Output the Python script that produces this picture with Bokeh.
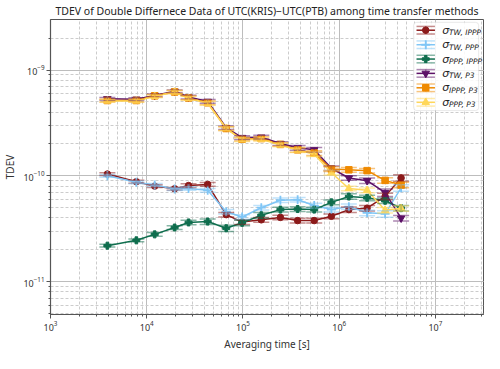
from bokeh.plotting import figure
from bokeh.models import Range1d, LinearScale, BoxAnnotation, Whisker, TeeHead, ColumnDataSource
from bokeh.embed import file_html
from bokeh.resources import INLINE
from bokeh.core.properties import value

# ---------------- data ----------------
tau = [3900, 7800, 12100, 19500, 27200, 43000, 67000, 98000, 155000, 245000,
       370000, 550000, 830000, 1260000, 1950000, 3000000, 4400000]

tdev_tw_ippp = [1.04e-10, 8.8e-11, 8.0e-11, 7.55e-11, 8.1e-11, 8.3e-11, 4.3e-11, 3.66e-11, 3.84e-11,
                4.05e-11, 3.78e-11, 3.78e-11, 4.15e-11, 4.8e-11, 4.95e-11, 6.4e-11, 9.55e-11]
tdev_tw_ppp = [1.0e-10, 8.7e-11, 8.2e-11, 7.5e-11, 7.6e-11, 7.3e-11, 4.58e-11, 4.09e-11, 5.0e-11,
               5.89e-11, 5.95e-11, 5.24e-11, 4.8e-11, 5.12e-11, 4.47e-11, 4.38e-11, 7.7e-11]
tdev_ppp_ippp = [2.19e-11, 2.46e-11, 2.8e-11, 3.25e-11, 3.63e-11, 3.7e-11, 3.2e-11, 3.6e-11, 4.24e-11,
                 4.8e-11, 4.86e-11, 4.8e-11, 5.62e-11, 6.38e-11, 6.2e-11, 5.82e-11, 4.95e-11]
tdev_tw_p3 = [5.35e-10, 5.3e-10, 5.75e-10, 6.3e-10, 5.55e-10, 5.05e-10, 2.85e-10, 2.3e-10, 2.32e-10,
              2.02e-10, 1.84e-10, 1.76e-10, 1.18e-10, 9.55e-11, 9.0e-11, 6.95e-11, 3.98e-11]
tdev_ippp_p3 = [5.15e-10, 5.15e-10, 5.7e-10, 6.2e-10, 5.45e-10, 4.9e-10, 2.8e-10, 2.22e-10, 2.25e-10,
                1.98e-10, 1.76e-10, 1.64e-10, 1.16e-10, 1.14e-10, 1.12e-10, 9.06e-11, 8.2e-11]
tdev_ppp_p3 = [5.1e-10, 5.1e-10, 5.65e-10, 6.2e-10, 5.4e-10, 4.85e-10, 2.8e-10, 2.2e-10, 2.22e-10,
               1.96e-10, 1.75e-10, 1.6e-10, 1.07e-10, 7.6e-11, 7.3e-11, 4.74e-11, 4.93e-11]

# relative 1-sigma errors (fraction of value)
err_tw_ippp = [0.03, 0.03, 0.03, 0.03, 0.04, 0.04, 0.05, 0.05, 0.05, 0.05, 0.05, 0.05, 0.05, 0.06, 0.06, 0.07, 0.07]
err_tw_ppp = [0.03, 0.03, 0.03, 0.03, 0.04, 0.04, 0.05, 0.05, 0.05, 0.05, 0.05, 0.05, 0.05, 0.06, 0.06, 0.07, 0.07]
err_ppp_ippp = [0.03, 0.03, 0.04, 0.04, 0.05, 0.06, 0.07, 0.06, 0.06, 0.05, 0.05, 0.05, 0.05, 0.06, 0.06, 0.06, 0.06]
err_tw_p3 = [0.03, 0.03, 0.03, 0.03, 0.04, 0.04, 0.04, 0.04, 0.04, 0.04, 0.05, 0.05, 0.05, 0.05, 0.06, 0.08, 0.06]
err_ippp_p3 = [0.03, 0.03, 0.03, 0.03, 0.04, 0.04, 0.04, 0.04, 0.04, 0.04, 0.05, 0.05, 0.05, 0.05, 0.05, 0.06, 0.06]
err_ppp_p3 = [0.03, 0.03, 0.03, 0.03, 0.04, 0.04, 0.04, 0.04, 0.04, 0.04, 0.05, 0.05, 0.05, 0.05, 0.05, 0.06, 0.06]

series_values = [tdev_tw_ippp, tdev_tw_ppp, tdev_ppp_ippp, tdev_tw_p3, tdev_ippp_p3, tdev_ppp_p3]
series_errors = [err_tw_ippp, err_tw_ppp, err_ppp_ippp, err_tw_p3, err_ippp_p3, err_ppp_p3]
series_subscripts = ["TW, IPPP", "TW, PPP", "PPP, IPPP", "TW, P3", "IPPP, P3", "PPP, P3"]

# ---------------- styles ----------------
colors = ["#8c1a1a", "#80c6f6", "#0f6e4e", "#5c1166", "#ef8a00", "#ffd75a"]
markers = ["circle", "cross", "plus", "inverted_triangle", "square", "triangle"]
msizes = [6.5, 9, 7, 7.5, 6.5, 7.5]

FONT = "Noto Sans"
FW, FH = 446, 311  # expected frame size (px), used for legend overlay coordinates

p = figure(width=484, height=353, x_axis_type="log", y_axis_type="log",
           x_range=Range1d(1e3, 3.16e7), y_range=Range1d(4.9e-12, 3.0e-9),
           output_backend="svg", toolbar_location=None,
           title="TDEV of Double Differnece Data of UTC(KRIS)\u2212UTC(PTB) among time transfer methods")
p.min_border_left = 37
p.min_border_right = 1
p.min_border_top = 2
p.min_border_bottom = 2
p.background_fill_color = "white"
p.border_fill_color = "white"
p.outline_line_color = "#555555"
p.outline_line_width = 1

p.title.text_font = FONT
p.title.text_font_size = "10.5px"
p.title.text_font_style = "normal"
p.title.text_color = "#222222"
p.title.align = "center"
p.title.standoff = 3

for ax in (p.xaxis[0], p.yaxis[0]):
    ax.axis_line_color = "#555555"
    ax.axis_line_width = 1.2
    ax.major_tick_in = 0
    ax.major_tick_out = 4
    ax.minor_tick_in = 0
    ax.minor_tick_out = 2
    ax.major_tick_line_color = "#555555"
    ax.minor_tick_line_color = "#555555"
    ax.major_label_text_font = FONT
    ax.major_label_text_font_size = "9px"
    ax.major_label_text_color = "#333333"
    ax.major_label_standoff = 2
    ax.axis_label_text_font = FONT
    ax.axis_label_text_font_size = "10px"
    ax.axis_label_text_font_style = "normal"
    ax.axis_label_text_color = "#333333"
    ax.axis_label_standoff = 3

p.xaxis.axis_label = "Averaging time [s]"
p.yaxis.axis_label = "TDEV"

p.grid.grid_line_color = "#bdbdbd"
p.grid.grid_line_width = 1
p.grid.minor_grid_line_color = "#cccccc"
p.grid.minor_grid_line_dash = "3 2"

# ---------------- data glyphs ----------------
for vals, errs, col, mk, ms in zip(series_values, series_errors, colors, markers, msizes):
    lower = [v * (1 - e) for v, e in zip(vals, errs)]
    upper = [v * (1 + e) for v, e in zip(vals, errs)]
    src = ColumnDataSource(dict(x=tau, y=vals, lower=lower, upper=upper))
    w = Whisker(source=src, base="x", lower="lower", upper="upper", dimension="height",
                line_color=col, line_alpha=0.5, line_width=1.5,
                upper_head=TeeHead(size=16, line_color=col, line_alpha=0.5, line_width=1.5),
                lower_head=TeeHead(size=16, line_color=col, line_alpha=0.5, line_width=1.5))
    w.level = "glyph"
    p.add_layout(w)
    p.line("x", "y", source=src, line_color=col, line_width=1.5)
    if mk == "cross":
        p.scatter("x", "y", source=src, marker=mk, size=ms, line_color=col, line_width=1.8)
    else:
        p.scatter("x", "y", source=src, marker=mk, size=ms, fill_color=col, line_color=col)

# ---------------- legend (pixel offsets from frame top-right) ----------------
p.extra_x_ranges = {"lx": Range1d(-FW, 0)}
p.extra_y_ranges = {"ly": Range1d(-FH, 0)}
p.extra_x_scales = {"lx": LinearScale()}
p.extra_y_scales = {"ly": LinearScale()}

box = BoxAnnotation(left=-72, right=-5, top=-3, bottom=-96,
                    x_range_name="lx", y_range_name="ly",
                    fill_color="white", fill_alpha=0.85,
                    line_color="#bbbbbb", line_width=1, border_radius=3, level="annotation")
p.add_layout(box)

row_y = [-11.3, -26.6, -41.7, -56.8, -72.0, -87.3]
hx0, hx1 = -69, -50
hxc = (hx0 + hx1) / 2
for yy, col, mk, ms in zip(row_y, colors, markers, msizes):
    kw = dict(x_range_name="lx", y_range_name="ly", level="overlay")
    p.segment(x0=[hx0, hx0, hx0, hxc], y0=[yy, yy + 4, yy - 4, yy - 4],
              x1=[hx1, hx1, hx1, hxc], y1=[yy, yy + 4, yy - 4, yy + 4],
              line_color=col, line_alpha=[1, 0.5, 0.5, 0.5], line_width=1.5, **kw)
    if mk == "cross":
        p.scatter(x=[hxc], y=[yy], marker=mk, size=ms, line_color=col, line_width=1.8, **kw)
    else:
        p.scatter(x=[hxc], y=[yy], marker=mk, size=ms, fill_color=col, line_color=col, **kw)

p.text(x=[-42.5] * 6, y=row_y, text=["\u03c3"] * 6,
       x_range_name="lx", y_range_name="ly", level="overlay",
       text_font=value("DejaVu Sans"), text_font_size=value("11px"), text_font_style="italic",
       text_baseline="middle", text_align="left", text_color="#222222")
p.text(x=[-35.5] * 6, y=[yy - 2.5 for yy in row_y], text=series_subscripts,
       x_range_name="lx", y_range_name="ly", level="overlay",
       text_font=value("DejaVu Sans"), text_font_size=value("7.5px"), text_font_style="italic",
       text_baseline="middle", text_align="left", text_color="#222222")

open("out.html", "w").write(file_html(p, INLINE))
